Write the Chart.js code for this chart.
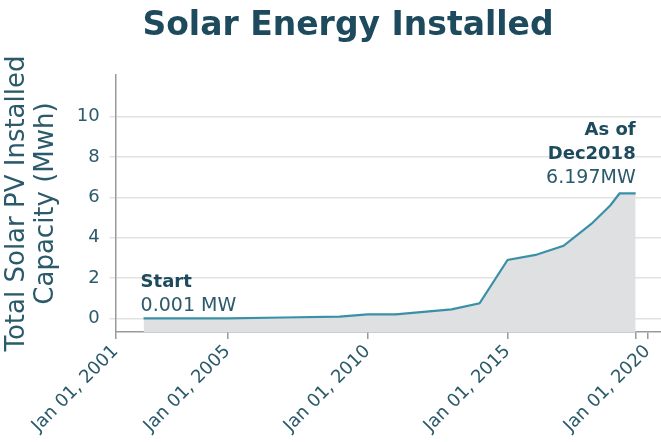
<!DOCTYPE html>
<html>
<head>
<meta charset="utf-8">
<script src="https://cdn.jsdelivr.net/npm/chart.js@4"></script>
<style>
  html, body { margin: 0; padding: 0; background: #ffffff; }
</style>
</head>
<body>
<canvas id="solarChart" width="661" height="442"></canvas>
<script>
// values
const dates = ['2002-01-01', '2005-01-01', '2007-01-01', '2009-01-01', '2010-01-01', '2011-01-01',
               '2013-01-01', '2014-01-01', '2015-01-01', '2016-01-01', '2017-01-01', '2018-01-01',
               '2018-09-01', '2019-01-01', '2019-07-30'];
const capacity = [0.001, 0.01, 0.05, 0.09, 0.2, 0.2, 0.45, 0.75, 2.9, 3.15, 3.6, 4.7, 5.6, 6.197, 6.197];
const xTickYears = [2001, 2005, 2010, 2015, 2020];
const yTicks = [0, 2, 4, 6, 8, 10];
const startNote = ['Start', '0.001 MW'];
const endNote = ['As of', 'Dec2018', '6.197MW'];

const FONT = "'DejaVu Sans', sans-serif";
const DARK = '#1d4a5c';
const TEXT = '#2b5a6b';

function toYear(d) {
    const dt = new Date(d + 'T00:00:00Z');
    const y = dt.getUTCFullYear();
    const start = Date.UTC(y, 0, 1);
    const end = Date.UTC(y + 1, 0, 1);
    return y + (dt.getTime() - start) / (end - start);
}

const points = dates.map((d, i) => ({ x: toYear(d), y: capacity[i] }));
const lastX = points[points.length - 1].x;

const notesPlugin = {
    id: 'notes',
    afterDatasetsDraw(chart) {
        const meta = chart.getDatasetMeta(0);
        const first = meta.data[0];
        const last = meta.data[meta.data.length - 1];
        const ctx = chart.ctx;
        ctx.save();
        ctx.textBaseline = 'alphabetic';

        ctx.textAlign = 'left';
        ctx.fillStyle = DARK;
        ctx.font = "bold 18px " + FONT;
        ctx.fillText(startNote[0], first.x - 3, first.y - 31);
        ctx.fillStyle = TEXT;
        ctx.font = "19px " + FONT;
        ctx.fillText(startNote[1], first.x - 3, first.y - 7);

        ctx.textAlign = 'right';
        ctx.fillStyle = DARK;
        ctx.font = "bold 18px " + FONT;
        ctx.fillText(endNote[0], last.x, last.y - 58);
        ctx.fillText(endNote[1], last.x, last.y - 34);
        ctx.fillStyle = TEXT;
        ctx.font = "19px " + FONT;
        ctx.fillText(endNote[2], last.x, last.y - 10);
        ctx.restore();
    }
};

const ctx = document.getElementById('solarChart').getContext('2d');
new Chart(ctx, {
    type: 'line',
    data: {
        datasets: [{
            data: points,
            borderColor: '#3a90a7',
            borderWidth: 2.2,
            backgroundColor: '#dfe0e2',
            fill: 'start',
            pointRadius: 0,
            tension: 0
        }]
    },
    options: {
        responsive: false,
        animation: false,
        layout: { padding: { left: 35, top: 0, right: 0, bottom: 0 } },
        plugins: {
            legend: { display: false },
            tooltip: { enabled: false },
            title: {
                display: true,
                text: 'Solar Energy Installed',
                color: DARK,
                font: { family: FONT, size: 33, weight: 'bold', lineHeight: 1.2 },
                padding: { top: 7, bottom: 28.4 }
            }
        },
        scales: {
            x: {
                type: 'linear',
                min: 2001,
                max: 2020.48,
                afterBuildTicks: scale => {
                    const vals = xTickYears.slice(0, 4).concat([lastX, xTickYears[4]]);
                    scale.ticks = vals.map(v => ({ value: v }));
                },
                afterFit: scale => {
                    scale.height = 110;
                    scale.paddingLeft = 0;
                    scale.paddingRight = 0;
                },
                ticks: {
                    autoSkip: false,
                    minRotation: 45,
                    maxRotation: 45,
                    color: TEXT,
                    font: { family: FONT, size: 18 },
                    padding: 2,
                    callback: v => Number.isInteger(v) ? 'Jan 01, ' + v : ''
                },
                grid: { drawOnChartArea: false, drawTicks: true, tickLength: 7, color: '#9a9a9a', lineWidth: 1.5 },
                border: { color: '#9a9a9a', width: 1.5 }
            },
            y: {
                min: -0.67,
                max: 12.07,
                afterBuildTicks: scale => {
                    scale.ticks = yTicks.map(v => ({ value: v }));
                },
                afterFit: scale => {
                    scale.width = 115.6 - 35;
                },
                ticks: {
                    color: TEXT,
                    font: { family: FONT, size: 18 },
                    padding: 10
                },
                grid: { color: '#e2e2e2', lineWidth: 1.5, tickLength: 6 },
                border: { color: '#9a9a9a', width: 1.5 },
                title: {
                    display: true,
                    text: ['Total Solar PV Installed', 'Capacity (Mwh)'],
                    color: TEXT,
                    font: { family: FONT, size: 26, lineHeight: 1.12 },
                    padding: { top: -32, bottom: 0 }
                }
            }
        }
    },
    plugins: [notesPlugin]
});
</script>
</body>
</html>
